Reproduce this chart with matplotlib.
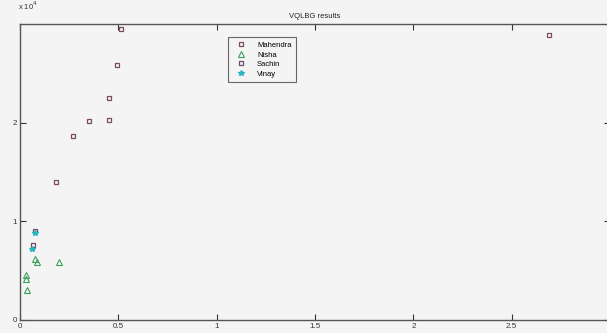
import numpy as np
import matplotlib
matplotlib.use('Agg')
import matplotlib.pyplot as plt

# ---------------------------------------------- Data
mahendra_x = [0.512, 0.493, 0.454, 0.451, 0.352, 0.271, 0.181, 2.69]
mahendra_y = [2.95e4, 2.58e4, 2.25e4, 2.03e4, 2.02e4, 1.86e4, 1.40e4, 2.89e4]

nisha_x = [0.076, 0.086, 0.200, 0.032, 0.032, 0.034]
nisha_y = [0.623e4, 0.583e4, 0.583e4, 0.452e4, 0.412e4, 0.300e4]

sachin_x = [0.076, 0.068]
sachin_y = [0.905e4, 0.764e4]

vinay_x = [0.076, 0.063]
vinay_y = [0.884e4, 0.724e4]

xticks = [0, 0.5, 1, 1.5, 2, 2.5]
xticklabels = ['0', '0.5', '1', '1.5', '2', '2.5']
yticks = [0, 1e4, 2e4]
yticklabels = ['0', '1', '2']

# ---------------------------------------------- Plot
plt.rcParams['font.family'] = ['Liberation Sans', 'DejaVu Sans']
bg = '#f4f4f4'
fig = plt.figure(figsize=(6.07, 3.33), dpi=100, facecolor=bg)
ax = fig.add_axes([20/607, 13/333, 590/607, 296/333], facecolor=bg)

ax.plot(mahendra_x, mahendra_y, 's', ls='none', ms=3.4, mfc='none',
        mec='#7d4a5a', mew=0.9, label='Mahendra')
ax.plot(nisha_x, nisha_y, '^', ls='none', ms=3.8, mfc='none',
        mec='#3aa05a', mew=0.8, label='Nisha')
ax.plot(sachin_x, sachin_y, 's', ls='none', ms=3.4, mfc='none',
        mec='#6e4a66', mew=0.9, label='Sachin')
ax.plot(vinay_x, vinay_y, '*', ls='none', ms=3.8, color='#2ab5c0',
        label='Vinay')

ax.set_xlim(0, 3)
ax.set_ylim(0, 3e4)
ax.set_xticks(xticks)
ax.set_xticklabels(xticklabels)
ax.set_yticks(yticks)
ax.set_yticklabels(yticklabels)
ax.tick_params(direction='in', length=4, width=0.8, labelsize=5.8,
               top=True, right=True, pad=2, colors='#333333')
for s in ax.spines.values():
    s.set_color('#555555')
    s.set_linewidth(1.0)

ax.set_title('VQLBG results', fontsize=5.5, pad=4, color='#222222')
fig.text(18/607, 1 - 12/333, r'x 10$^4$', fontsize=5.5, color='#333333',
         ha='left', va='bottom')

leg = ax.legend(loc='upper left', bbox_to_anchor=(0.353, 0.955),
                borderaxespad=0, fontsize=5.5, frameon=True, fancybox=False,
                handlelength=2.2, handletextpad=1.0, labelspacing=0.3,
                borderpad=0.55)
leg.get_frame().set_edgecolor('#444444')
leg.get_frame().set_facecolor(bg)
leg.get_frame().set_linewidth(0.8)

fig.savefig('out.png', dpi=100, facecolor=bg)
